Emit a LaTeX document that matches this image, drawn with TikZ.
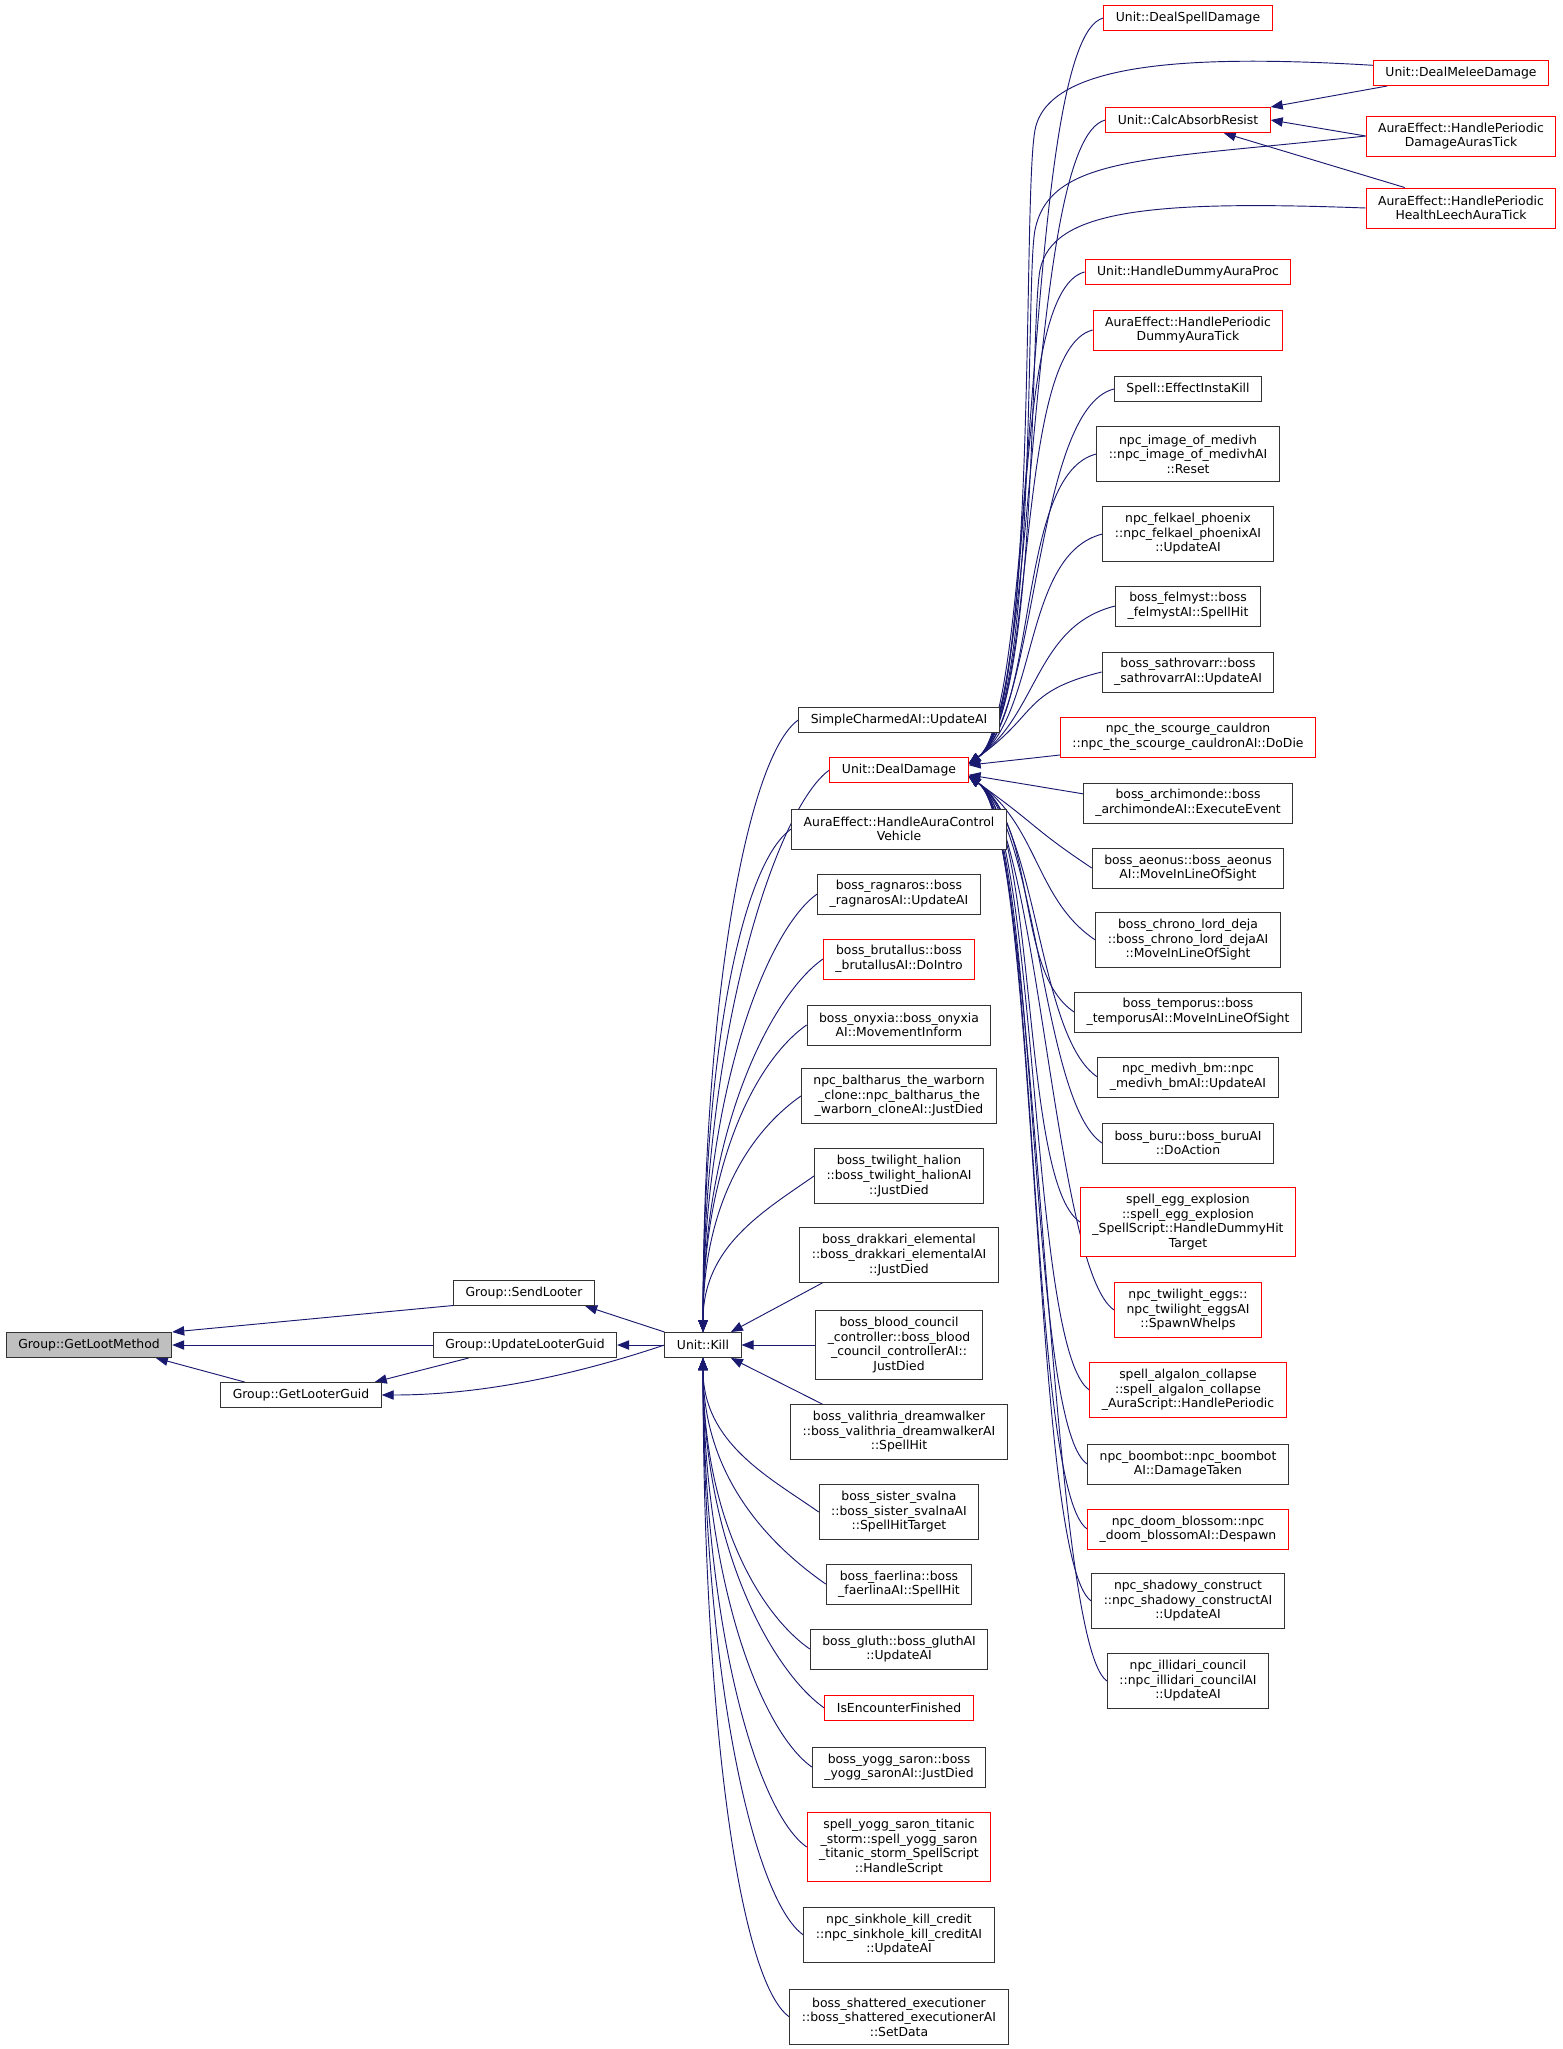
\documentclass[tikz,border=0pt]{standalone}
\usepackage{fontspec}
\setmainfont{DejaVu Sans}
\usepackage{tikz}
\usetikzlibrary{arrows.meta,backgrounds}
\definecolor{callblue}{HTML}{191970}
\definecolor{rootgray}{HTML}{BFBFBF}

\begin{document}
\begin{tikzpicture}[
    x=0.75pt, y=-0.75pt,
    >={Triangle[length=9pt,width=7pt]},
    fn/.style={draw=black!80, fill=white, line width=0.75pt, align=center,
        font=\fontsize{9.3}{10.9}\selectfont, inner xsep=9pt, inner ysep=2pt,
        minimum height=18.75pt},
    fnred/.style={fn, draw=red},
    fnroot/.style={fn, fill=rootgray},
    two/.style={minimum height=30pt},
    three/.style={minimum height=41pt},
    four/.style={minimum height=52pt},
    call/.style={<-, draw=callblue, line width=0.7pt}
]

    \useasboundingbox (0,0) rectangle (1563,2049);

    % Grup
    \node[fnroot] (getlootmethod) at (89,1345) {Group::GetLootMethod};
    \node[fn] (sendlooter) at (524,1293) {Group::SendLooter};
    \node[fn] (updatelooterguid) at (525,1345) {Group::UpdateLooterGuid};
    \node[fn] (getlooterguid) at (301,1395) {Group::GetLooterGuid};
    \node[fn] (kill) at (703,1345) {Unit::Kill};

    % Crides a Unit::Kill
    \node[fn] (simplecharmed) at (899,720) {SimpleCharmedAI::UpdateAI};
    \node[fnred] (dealdamage) at (899,770) {Unit::DealDamage};
    \node[fn, two] (auracontrol) at (899,829) {AuraEffect::HandleAuraControl\\Vehicle};
    \node[fn, two] (ragnaros) at (899,894) {boss\_ragnaros::boss\\\_ragnarosAI::UpdateAI};
    \node[fnred, two] (brutallus) at (899,959) {boss\_brutallus::boss\\\_brutallusAI::DoIntro};
    \node[fn, two] (onyxia) at (899,1025) {boss\_onyxia::boss\_onyxia\\AI::MovementInform};
    \node[fn, three] (baltharus) at (899,1096) {npc\_baltharus\_the\_warborn\\\_clone::npc\_baltharus\_the\\\_warborn\_cloneAI::JustDied};
    \node[fn, three] (halion) at (899,1176) {boss\_twilight\_halion\\::boss\_twilight\_halionAI\\::JustDied};
    \node[fn, three] (drakkari) at (899,1255) {boss\_drakkari\_elemental\\::boss\_drakkari\_elementalAI\\::JustDied};
    \node[fn, four] (bloodcouncil) at (899,1345) {boss\_blood\_council\\\_controller::boss\_blood\\\_council\_controllerAI::\\JustDied};
    \node[fn, three] (valithria) at (899,1432) {boss\_valithria\_dreamwalker\\::boss\_valithria\_dreamwalkerAI\\::SpellHit};
    \node[fn, three] (svalna) at (899,1512) {boss\_sister\_svalna\\::boss\_sister\_svalnaAI\\::SpellHitTarget};
    \node[fn, two] (faerlina) at (899,1584) {boss\_faerlina::boss\\\_faerlinaAI::SpellHit};
    \node[fn, two] (gluth) at (899,1649) {boss\_gluth::boss\_gluthAI\\::UpdateAI};
    \node[fnred] (isencounter) at (899,1708) {IsEncounterFinished};
    \node[fn, two] (yogg) at (899,1767) {boss\_yogg\_saron::boss\\\_yogg\_saronAI::JustDied};
    \node[fnred, four] (titanic) at (899,1847) {spell\_yogg\_saron\_titanic\\\_storm::spell\_yogg\_saron\\\_titanic\_storm\_SpellScript\\::HandleScript};
    \node[fn, three] (sinkhole) at (899,1935) {npc\_sinkhole\_kill\_credit\\::npc\_sinkhole\_kill\_creditAI\\::UpdateAI};
    \node[fn, three] (shattered) at (899,2017) {boss\_shattered\_executioner\\::boss\_shattered\_executionerAI\\::SetData};

    % Crides a Unit::DealDamage
    \node[fnred] (dealspell) at (1188,18) {Unit::DealSpellDamage};
    \node[fnred] (calcabsorb) at (1188,120) {Unit::CalcAbsorbResist};
    \node[fnred] (dummyauraproc) at (1188,272) {Unit::HandleDummyAuraProc};
    \node[fnred, two] (dummyauratick) at (1188,330) {AuraEffect::HandlePeriodic\\DummyAuraTick};
    \node[fn] (instakill) at (1188,389) {Spell::EffectInstaKill};
    \node[fn, three] (imagemedivh) at (1188,454) {npc\_image\_of\_medivh\\::npc\_image\_of\_medivhAI\\::Reset};
    \node[fn, three] (felkael) at (1188,534) {npc\_felkael\_phoenix\\::npc\_felkael\_phoenixAI\\::UpdateAI};
    \node[fn, two] (felmyst) at (1188,606) {boss\_felmyst::boss\\\_felmystAI::SpellHit};
    \node[fn, two] (sathrovarr) at (1188,672) {boss\_sathrovarr::boss\\\_sathrovarrAI::UpdateAI};
    \node[fnred, two] (scourge) at (1188,737) {npc\_the\_scourge\_cauldron\\::npc\_the\_scourge\_cauldronAI::DoDie};
    \node[fn, two] (archimonde) at (1188,803) {boss\_archimonde::boss\\\_archimondeAI::ExecuteEvent};
    \node[fn, two] (aeonus) at (1188,868) {boss\_aeonus::boss\_aeonus\\AI::MoveInLineOfSight};
    \node[fn, three] (chrono) at (1188,940) {boss\_chrono\_lord\_deja\\::boss\_chrono\_lord\_dejaAI\\::MoveInLineOfSight};
    \node[fn, two] (temporus) at (1188,1012) {boss\_temporus::boss\\\_temporusAI::MoveInLineOfSight};
    \node[fn, two] (medivhbm) at (1188,1077) {npc\_medivh\_bm::npc\\\_medivh\_bmAI::UpdateAI};
    \node[fn, two] (buru) at (1188,1143) {boss\_buru::boss\_buruAI\\::DoAction};
    \node[fnred, four] (eggexplosion) at (1188,1222) {spell\_egg\_explosion\\::spell\_egg\_explosion\\\_SpellScript::HandleDummyHit\\Target};
    \node[fnred, three] (twilighteggs) at (1188,1310) {npc\_twilight\_eggs::\\npc\_twilight\_eggsAI\\::SpawnWhelps};
    \node[fnred, three] (algalon) at (1188,1390) {spell\_algalon\_collapse\\::spell\_algalon\_collapse\\\_AuraScript::HandlePeriodic};
    \node[fn, two] (boombot) at (1188,1464) {npc\_boombot::npc\_boombot\\AI::DamageTaken};
    \node[fnred, two] (doomblossom) at (1188,1529) {npc\_doom\_blossom::npc\\\_doom\_blossomAI::Despawn};
    \node[fn, three] (shadowy) at (1188,1601) {npc\_shadowy\_construct\\::npc\_shadowy\_constructAI\\::UpdateAI};
    \node[fn, three] (illidari) at (1188,1681) {npc\_illidari\_council\\::npc\_illidari\_councilAI\\::UpdateAI};

    % Crides a Unit::CalcAbsorbResist
    \node[fnred] (dealmelee) at (1461,73) {Unit::DealMeleeDamage};
    \node[fnred, two] (damageauras) at (1461,136) {AuraEffect::HandlePeriodic\\DamageAurasTick};
    \node[fnred, two] (healthleech) at (1461,208) {AuraEffect::HandlePeriodic\\HealthLeechAuraTick};

    \begin{pgfonlayer}{background}
    % Arestes del grup
    \draw[call] (getlootmethod.north east) -- (sendlooter.-170);
    \draw[call] (getlootmethod.east) -- (updatelooterguid.west);
    \draw[call] (getlootmethod.-11) -- (getlooterguid.167);
    \draw[call] (getlooterguid.10) -- (updatelooterguid.193);
    \draw[call] (getlooterguid.east) .. controls +(120,0) and +(-60,20) .. (kill.west);
    \draw[call] (sendlooter.-12) -- (kill.north west);
    \draw[call] (updatelooterguid.east) -- (kill.west);

    % Arestes cap a Unit::Kill
    \foreach \n/\k in {simplecharmed/338, dealdamage/310, auracontrol/277,
        ragnaros/241, brutallus/206, onyxia/169, baltharus/130, halion/86}
        \draw[call] (kill.north) .. controls +(0,-\k) and +(-50,35) .. (\n.west);
    \draw[call] (kill.25) -- (drakkari.-160);
    \draw[call] (kill.east) -- (bloodcouncil.west);
    \draw[call] (kill.-25) -- (valithria.160);
    \foreach \n/\k in {svalna/85, faerlina/124, gluth/160, isencounter/193,
        yogg/225, titanic/269, sinkhole/317, shattered/362}
        \draw[call] (kill.south) .. controls +(0,\k) and +(-50,-35) .. (\n.west);

    % Arestes cap a Unit::DealDamage
    \foreach \n in {dealspell, calcabsorb, dummyauraproc, dummyauratick, instakill,
        imagemedivh, felkael, felmyst, sathrovarr}
        \draw[call] (dealdamage.5) .. controls +(70,-50) and +(-80,20) .. (\n.west);
    \draw[call] (dealdamage.5) .. controls +(70,-50) and (1022,200)
        .. (1035,130) .. controls (1048,60) and (1200,55) .. (dealmelee.175);
    \draw[call] (dealdamage.5) .. controls +(70,-50) and (1025,280)
        .. (1035,230) .. controls (1050,155) and (1150,160) .. (damageauras.west);
    \draw[call] (dealdamage.5) .. controls +(70,-50) and (1030,320)
        .. (1040,270) .. controls (1052,210) and (1150,200) .. (healthleech.west);
    \draw[call] (dealdamage.4) -- (scourge.188);
    \draw[call] (dealdamage.-4) -- (archimonde.175);
    \foreach \n in {aeonus, chrono, temporus, medivhbm, buru, eggexplosion,
        twilighteggs, algalon, boombot, doomblossom, shadowy, illidari}
        \draw[call] (dealdamage.-5) .. controls +(70,50) and +(-60,-40) .. (\n.west);

    % Arestes cap a Unit::CalcAbsorbResist
    \draw[call] (calcabsorb.north east) -- (dealmelee.190);
    \draw[call] (calcabsorb.east) -- (damageauras.west);
    \draw[call] (calcabsorb.-20) -- (healthleech.160);
    \end{pgfonlayer}

\end{tikzpicture}
\end{document}
